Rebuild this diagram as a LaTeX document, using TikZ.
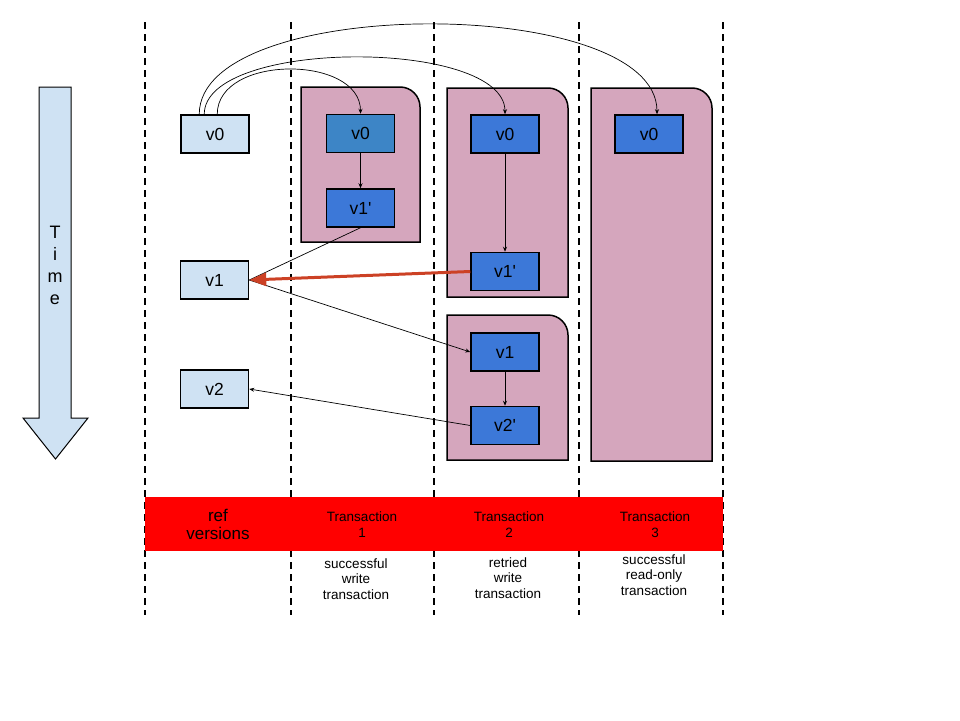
\documentclass[tikz,border=0pt]{standalone}
\usepackage{fontspec}
\setmainfont{Liberation Sans}
\usepackage{tikz}
\usetikzlibrary{arrows.meta, positioning}
\usepackage{xcolor}
\definecolor{refblue}{HTML}{CFE2F3}
\definecolor{txpink}{HTML}{D5A6BD}
\definecolor{readblue}{HTML}{3D85C6}
\definecolor{txblue}{HTML}{3C78D8}
\definecolor{retry}{HTML}{CC4125}

\begin{document}
\begin{tikzpicture}[
    x=1pt, y=1pt,
    ver/.style={rectangle, draw, line width=1.5pt, minimum width=68pt,
                minimum height=38pt, inner sep=0pt, font=\fontsize{17.5}{20}\selectfont},
    refver/.style={ver, fill=refblue},
    txver/.style={ver, fill=txblue},
    panel/.style={fill=txpink, draw, line width=1.5pt},
    lane/.style={line width=1.5pt, dash pattern=on 7pt off 5pt},
    head/.style={align=center, font=\fontsize{13.5}{16}\selectfont},
    note/.style={align=center, font=\fontsize{13.5}{15.5}\selectfont},
    arr/.style={-{Stealth[length=5pt, width=4pt]}, line width=0.7pt},
  ]
  \useasboundingbox (0,0) rectangle (960,-720);
  % lanes
  \foreach \x in {145, 291, 434, 579, 723}
    \draw[lane] (\x,-22) -- (\x,-615);
  % time arrow
  \draw[fill=refblue, line width=1pt] (39,-87) -- (71,-87) -- (71,-418) -- (88,-418)
    -- (55.5,-459) -- (23,-418) -- (39,-418) -- cycle;
  \node[align=center, font=\fontsize{18}{22}\selectfont] (time) at (55,-265) {T\\i\\m\\e};
  % transaction panels
  \draw[panel] (301,-242) -- (301,-87) -- (400,-87) arc[start angle=90, end angle=0, radius=20] -- (420,-242) -- cycle;
  \draw[panel] (447,-297) -- (447,-88) -- (548,-88) arc[start angle=90, end angle=0, radius=20] -- (568,-297) -- cycle;
  \draw[panel] (447,-460) -- (447,-315) -- (548,-315) arc[start angle=90, end angle=0, radius=20] -- (568,-460) -- cycle;
  \draw[panel] (591,-461) -- (591,-88) -- (692,-88) arc[start angle=90, end angle=0, radius=20] -- (712,-461) -- cycle;
  % ref versions
  \node[refver] (ref0) at (215,-134) {v0};
  \node[refver] (ref1) at (214.5,-280) {v1};
  \node[refver] (ref2) at (214.5,-389) {v2};
  % transaction 1
  \node[ver, fill=readblue] (t1v0) at (360.5,-133.5) {v0};
  \node[txver, below=35pt of t1v0] (t1v1p) {v1\textquotesingle};
  % transaction 2
  \node[txver] (t2v0) at (505,-134) {v0};
  \node[txver, below=98pt of t2v0] (t2v1p) {v1\textquotesingle};
  \node[txver] (t2v1) at (505,-352) {v1};
  \node[txver, below=34pt of t2v1] (t2v2p) {v2\textquotesingle};
  % transaction 3
  \node[txver] (t3v0) at (649,-134) {v0};
  % reads of v0
  \draw[arr] ([xshift=19pt]ref0.north west) .. controls +(0,120) and +(0,120) .. ([xshift=8pt]t3v0.north);
  \draw[arr] ([xshift=24pt]ref0.north west) .. controls +(0,76) and +(0,76) .. (t2v0.north);
  \draw[arr] ([xshift=37pt]ref0.north west) .. controls +(0,60) and +(0,59) .. (t1v0.north);
  % writes
  \draw[arr] (t1v0) -- (t1v1p);
  \draw[arr] (t2v0) -- (t2v1p);
  \draw[arr] (t2v1) -- (t2v2p);
  \draw[line width=0.7pt] (t1v1p.south) -- (ref1.east);
  \draw[arr] (ref1.east) -- (t2v1.west);
  \draw[arr] (t2v2p.west) -- (ref2.east);
  \draw[-{Triangle[length=17pt, width=13pt]}, line width=3pt, retry] (t2v1p.west) -- (ref1.east);
  % legend band
  \fill[red] (145,-497) rectangle (723,-551);
  \node[align=center, font=\fontsize{17}{18}\selectfont] (refhead) at (218,-524) {ref\\versions};
  \node[head] (t1head) at (362,-525) {Transaction\\1};
  \node[head] (t2head) at (509,-525) {Transaction\\2};
  \node[head] (t3head) at (655,-525) {Transaction\\3};
  \node[note] (t1note) at (356,-579) {successful\\write\\transaction};
  \node[note] (t2note) at (508,-578) {retried\\write\\transaction};
  \node[note] (t3note) at (654,-575) {successful\\read-only\\transaction};
\end{tikzpicture}
\end{document}
